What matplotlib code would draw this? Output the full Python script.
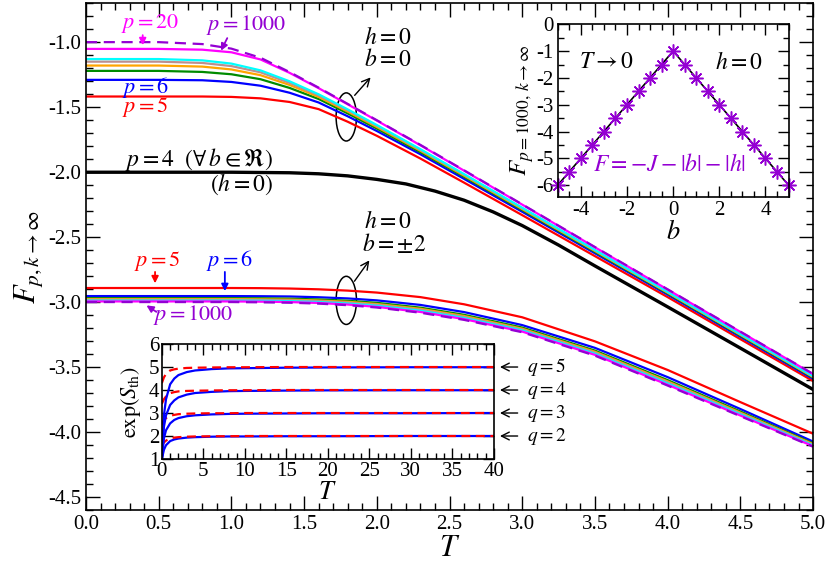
import matplotlib
matplotlib.use("Agg")
import matplotlib.pyplot as plt
from matplotlib.patches import Ellipse
from matplotlib.ticker import MultipleLocator, FormatStrFormatter

plt.rcParams["font.family"] = "serif"
plt.rcParams["font.serif"] = ["Liberation Serif", "DejaVu Serif"]
plt.rcParams["mathtext.fontset"] = "stix"
plt.rcParams["axes.unicode_minus"] = False
plt.rcParams["font.size"] = 14

# temperature grid shared by the main-panel curves
T = [0.0, 0.5, 0.8, 1.0, 1.2, 1.4, 1.6, 1.8, 2.0, 2.3, 2.6, 3.0, 3.5, 4.0, 4.5, 5.0]

# h = 0, b = 0
f0_p5 = [-1.418, -1.418, -1.418, -1.421, -1.432, -1.460, -1.515, -1.612, -1.720, -1.895, -2.080, -2.330, -2.645, -2.960, -3.283, -3.605]
f0_p6 = [-1.290, -1.290, -1.293, -1.306, -1.335, -1.389, -1.464, -1.570, -1.683, -1.862, -2.051, -2.304, -2.623, -2.941, -3.265, -3.588]
f0_p7 = [-1.221, -1.221, -1.229, -1.247, -1.285, -1.352, -1.437, -1.548, -1.664, -1.846, -2.035, -2.291, -2.612, -2.932, -3.256, -3.579]
f0_p8 = [-1.180, -1.180, -1.188, -1.210, -1.254, -1.329, -1.421, -1.534, -1.652, -1.835, -2.026, -2.283, -2.605, -2.926, -3.250, -3.574]
f0_p9 = [-1.150, -1.150, -1.160, -1.184, -1.232, -1.313, -1.409, -1.524, -1.643, -1.828, -2.019, -2.277, -2.600, -2.922, -3.246, -3.570]
f0_p10 = [-1.130, -1.130, -1.140, -1.165, -1.217, -1.301, -1.401, -1.517, -1.637, -1.823, -2.014, -2.273, -2.597, -2.919, -3.243, -3.567]
f0_p20 = [-1.052, -1.052, -1.058, -1.078, -1.133, -1.236, -1.354, -1.478, -1.603, -1.793, -1.988, -2.249, -2.577, -2.902, -3.227, -3.552]
f0_p1000 = [-1.000, -1.000, -1.015, -1.050, -1.120, -1.230, -1.350, -1.475, -1.600, -1.790, -1.985, -2.247, -2.575, -2.900, -3.225, -3.550]

# p = 4 (any b), h = 0 -- own, finer grid around the bend
T_p4 = [0.0, 0.5, 1.0, 1.4, 1.6, 1.8, 2.0, 2.2, 2.4, 2.6, 2.8, 3.0, 3.25, 3.5, 4.0, 4.5, 5.0]
f_p4 = [-2.000, -2.000, -2.000, -2.004, -2.012, -2.028, -2.055, -2.090, -2.145, -2.215, -2.305, -2.410, -2.560, -2.720, -3.035, -3.352, -3.670]

# h = 0, b = +-2
f2_p5 = [-2.890, -2.890, -2.890, -2.890, -2.891, -2.894, -2.900, -2.910, -2.925, -2.960, -3.015, -3.115, -3.300, -3.520, -3.767, -4.010]
f2_p6 = [-2.952, -2.952, -2.952, -2.952, -2.953, -2.955, -2.961, -2.970, -2.985, -3.020, -3.075, -3.175, -3.350, -3.575, -3.820, -4.070]
f2_p7 = [-2.968, -2.968, -2.968, -2.968, -2.969, -2.972, -2.978, -2.988, -3.004, -3.041, -3.096, -3.194, -3.371, -3.598, -3.839, -4.084]
f2_p8 = [-2.975, -2.975, -2.975, -2.975, -2.977, -2.979, -2.986, -2.996, -3.013, -3.050, -3.105, -3.203, -3.380, -3.608, -3.848, -4.090]
f2_p9 = [-2.981, -2.981, -2.981, -2.981, -2.982, -2.985, -2.991, -3.002, -3.019, -3.057, -3.112, -3.209, -3.387, -3.615, -3.854, -4.095]
f2_p10 = [-2.987, -2.987, -2.987, -2.987, -2.988, -2.991, -2.998, -3.009, -3.026, -3.065, -3.120, -3.216, -3.395, -3.624, -3.861, -4.100]
f2_p20 = [-2.993, -2.993, -2.993, -2.993, -2.995, -2.998, -3.005, -3.017, -3.035, -3.074, -3.129, -3.225, -3.404, -3.634, -3.870, -4.106]
f2_p1000 = [-2.998, -2.998, -2.998, -2.998, -3.000, -3.003, -3.010, -3.022, -3.040, -3.080, -3.135, -3.230, -3.410, -3.640, -3.875, -4.110]

# inset: T -> 0 limit, p = 1000
b_vals = [-5.0, -4.5, -4.0, -3.5, -3.0, -2.5, -2.0, -1.5, -1.0, -0.5, 0.0,
          0.5, 1.0, 1.5, 2.0, 2.5, 3.0, 3.5, 4.0, 4.5, 5.0]
f_b = [-6.0, -5.5, -5.0, -4.5, -4.0, -3.5, -3.0, -2.5, -2.0, -1.5, -1.0,
       -1.5, -2.0, -2.5, -3.0, -3.5, -4.0, -4.5, -5.0, -5.5, -6.0]

# inset: thermal entropy
T_s = [0, 0.25, 0.5, 1, 1.5, 2, 3, 4, 6, 8, 10, 15, 20, 30, 40]
s_blue = {
    2: [1.0, 1.40, 1.60, 1.78, 1.85, 1.89, 1.93, 1.95, 1.97, 1.98, 1.98, 1.99, 1.99, 2.0, 2.0],
    3: [1.0, 1.90, 2.25, 2.55, 2.70, 2.78, 2.86, 2.90, 2.94, 2.96, 2.97, 2.98, 2.99, 2.99, 3.0],
    4: [1.0, 2.40, 2.90, 3.35, 3.55, 3.68, 3.80, 3.87, 3.92, 3.95, 3.96, 3.975, 3.985, 3.99, 3.99],
    5: [1.0, 2.90, 3.60, 4.25, 4.50, 4.65, 4.78, 4.85, 4.91, 4.94, 4.95, 4.97, 4.98, 4.99, 4.99],
}
s_red = {
    2: [1.55, 1.72, 1.80, 1.90, 1.93, 1.95, 1.97, 1.98, 1.99, 1.99, 2.0, 2.0, 2.0, 2.0, 2.0],
    3: [2.50, 2.68, 2.78, 2.88, 2.92, 2.95, 2.97, 2.98, 2.99, 2.99, 3.0, 3.0, 3.0, 3.0, 3.0],
    4: [3.40, 3.60, 3.72, 3.86, 3.91, 3.94, 3.96, 3.97, 3.98, 3.99, 3.99, 4.0, 4.0, 4.0, 4.0],
    5: [4.30, 4.55, 4.70, 4.85, 4.90, 4.93, 4.96, 4.97, 4.98, 4.99, 4.99, 5.0, 5.0, 5.0, 5.0],
}

PURPLE = "#9400d3"
colors = ["#ff0000", "#0000ff", "#008b00", "#ffa500", "#bc8f8f", "#00ffff", "#ff00ff"]


def style_ticks(ax, major=10, minor=5):
    ax.tick_params(which="both", direction="in", top=True, right=True, width=1.0)
    ax.tick_params(which="major", length=major)
    ax.tick_params(which="minor", length=minor)
    for sp in ax.spines.values():
        sp.set_linewidth(1.2)


fig = plt.figure(figsize=(8.3, 5.65), dpi=100)
ax = fig.add_axes([0.1036, 0.0965, 0.876, 0.898])

for group in ([f0_p5, f0_p6, f0_p7, f0_p8, f0_p9, f0_p10, f0_p20],
              [f2_p5, f2_p6, f2_p7, f2_p8, f2_p9, f2_p10, f2_p20]):
    for vals, c in zip(group, colors):
        ax.plot(T, vals, color=c, lw=1.6)
ax.plot(T, f0_p1000, color=PURPLE, lw=1.6, dashes=(5, 3))
ax.plot(T, f2_p1000, color=PURPLE, lw=1.6, dashes=(5, 3))
ax.plot(T_p4, f_p4, color="black", lw=2.4)

ax.set_xlim(0, 5)
ax.set_ylim(-4.6, -0.7)
ax.xaxis.set_major_locator(MultipleLocator(0.5))
ax.xaxis.set_minor_locator(MultipleLocator(0.1))
ax.yaxis.set_minor_locator(MultipleLocator(0.1))
ax.xaxis.set_major_formatter(FormatStrFormatter("%.1f"))
ax.yaxis.set_major_formatter(FormatStrFormatter("%.1f"))
ax.set_yticks([-4.5, -4.0, -3.5, -3.0, -2.5, -2.0, -1.5, -1.0])
style_ticks(ax)
ax.tick_params(labelsize=15)
ax.set_xlabel(r"$T$", fontsize=22, labelpad=0)
ax.set_ylabel(r"$F_{p,k\rightarrow\infty}$", fontsize=22, labelpad=2)

# annotations, b = 0 group
ax.text(0.44, -0.855, r"$p=20$", color="#ff00ff", fontsize=16, ha="center", va="center")
ax.annotate("", xy=(0.39, -1.045), xytext=(0.39, -0.925),
            arrowprops=dict(arrowstyle="-|>", color="#ff00ff", lw=1.3, mutation_scale=10))
ax.text(1.10, -0.87, r"$p=1000$", color=PURPLE, fontsize=16, ha="center", va="center")
ax.annotate("", xy=(0.92, -1.085), xytext=(0.98, -0.95),
            arrowprops=dict(arrowstyle="-|>", color=PURPLE, lw=1.3, mutation_scale=10))
ax.text(0.41, -1.345, r"$p=6$", color="#0000ff", fontsize=16, ha="center", va="center")
ax.text(0.41, -1.495, r"$p=5$", color="#ff0000", fontsize=16, ha="center", va="center")
ax.text(0.78, -1.905, r"$p=4\ \ (\forall\, b \in \Re)$", fontsize=17, ha="center", va="center")
ax.text(1.07, -2.095, r"$(h=0)$", fontsize=17, ha="center", va="center")

ax.add_patch(Ellipse((1.79, -1.575), 0.14, 0.37, fill=False, lw=1.1, color="black"))
ax.annotate("", xy=(1.97, -1.255), xytext=(1.835, -1.425),
            arrowprops=dict(arrowstyle="->", color="black", lw=1.0))
ax.text(2.08, -0.97, r"$h=0$", fontsize=17, ha="center", va="center")
ax.text(2.08, -1.14, r"$b=0$", fontsize=17, ha="center", va="center")

# annotations, b = +-2 group
ax.add_patch(Ellipse((1.79, -2.985), 0.14, 0.37, fill=False, lw=1.1, color="black"))
ax.annotate("", xy=(1.96, -2.66), xytext=(1.835, -2.855),
            arrowprops=dict(arrowstyle="->", color="black", lw=1.0))
ax.text(2.08, -2.385, r"$h=0$", fontsize=17, ha="center", va="center")
ax.text(2.12, -2.555, r"$b=\pm 2$", fontsize=17, ha="center", va="center")

ax.text(0.49, -2.68, r"$p=5$", color="#ff0000", fontsize=16, ha="center", va="center")
ax.annotate("", xy=(0.475, -2.875), xytext=(0.475, -2.745),
            arrowprops=dict(arrowstyle="-|>", color="#ff0000", lw=1.3, mutation_scale=10))
ax.text(0.985, -2.68, r"$p=6$", color="#0000ff", fontsize=16, ha="center", va="center")
ax.annotate("", xy=(0.955, -2.935), xytext=(0.955, -2.745),
            arrowprops=dict(arrowstyle="-|>", color="#0000ff", lw=1.3, mutation_scale=10))
ax.text(0.74, -3.1, r"$p=1000$", color=PURPLE, fontsize=16, ha="center", va="center")
ax.annotate("", xy=(0.40, -3.012), xytext=(0.50, -3.085),
            arrowprops=dict(arrowstyle="-|>", color=PURPLE, lw=1.3, mutation_scale=10))

# inset: F vs b at T -> 0
ax1 = fig.add_axes([0.672, 0.651, 0.278, 0.306])
ax1.plot(b_vals, f_b, color="black", lw=1.2)
ax1.plot(b_vals, f_b, ls="none", marker=(8, 2, 0), ms=10, mew=1.1,
         color=PURPLE, clip_on=False)
ax1.set_xlim(-5, 5)
ax1.set_ylim(-6.45, 0)
ax1.xaxis.set_major_locator(MultipleLocator(2))
ax1.xaxis.set_minor_locator(MultipleLocator(0.5))
ax1.yaxis.set_major_locator(MultipleLocator(1))
ax1.yaxis.set_minor_locator(MultipleLocator(0.5))
style_ticks(ax1, major=8, minor=4)
ax1.tick_params(labelsize=15, pad=3)
ax1.set_xlabel(r"$b$", fontsize=19, labelpad=0)
ax1.set_ylabel(r"$F_{p=1000,\,k\rightarrow\infty}$", fontsize=18, labelpad=0)
ax1.text(-2.9, -1.43, r"$T\rightarrow 0$", fontsize=17, ha="center", va="center")
ax1.text(2.85, -1.43, r"$h=0$", fontsize=17, ha="center", va="center")
ax1.text(-0.15, -5.25, r"$F=-J-|b|-|h|$", color=PURPLE, fontsize=17, ha="center", va="center")

# inset: exp(S_th) vs T
ax2 = fig.add_axes([0.195, 0.1876, 0.4, 0.2035])
for q in (2, 3, 4, 5):
    ax2.plot(T_s, s_blue[q], color="#0000ff", lw=1.6)
    ax2.plot(T_s, s_red[q], color="#ff0000", lw=1.6, dashes=(4, 2.5))
    ax2.annotate("", xy=(40.4, q), xytext=(43.2, q), xycoords="data",
                 arrowprops=dict(arrowstyle="->", color="black", lw=1.0),
                 annotation_clip=False)
    ax2.text(44.0, q, r"$q=%d$" % q, fontsize=14, ha="left", va="center")
ax2.set_xlim(0, 40)
ax2.set_ylim(1, 6)
ax2.xaxis.set_major_locator(MultipleLocator(5))
ax2.xaxis.set_minor_locator(MultipleLocator(1))
ax2.yaxis.set_major_locator(MultipleLocator(1))
style_ticks(ax2, major=8, minor=4)
ax2.tick_params(labelsize=15, pad=2)
ax2.set_xlabel(r"$T$", fontsize=19, labelpad=1)
ax2.set_ylabel(r"$\exp(S_{\rm th})$", fontsize=16, labelpad=4)

fig.savefig("out.png", dpi=100)
